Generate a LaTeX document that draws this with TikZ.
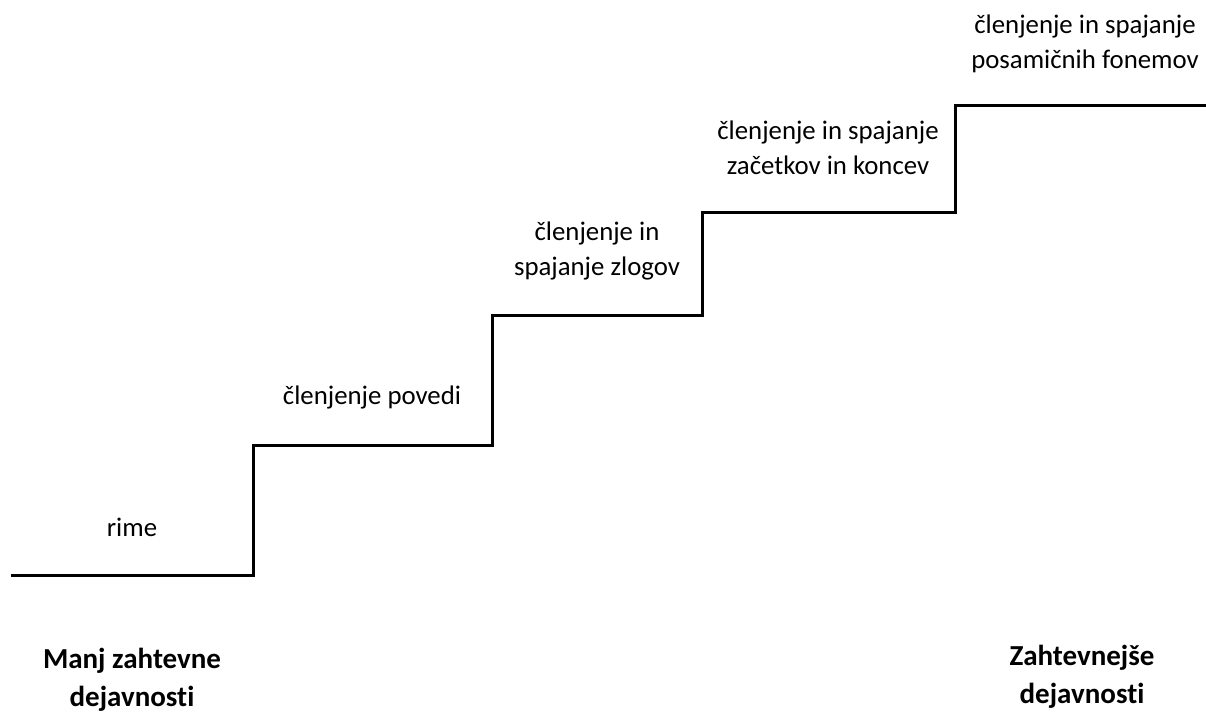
\documentclass[tikz,border=0pt]{standalone}
\usepackage{fontspec}
\setmainfont{Carlito}[Ligatures={NoCommon}]
\begin{document}
\begin{tikzpicture}[x=1pt,y=-1pt,
  lbl/.style={align=center,inner sep=0pt,font=\fontsize{26.8}{35}\selectfont},
  blbl/.style={align=center,inner sep=0pt,font=\fontsize{29}{38}\selectfont\bfseries},
  stair/.style={line width=3pt,line join=miter}]
\useasboundingbox (0,0) rectangle (1206,713);
\begin{scope}
\clip (0,0) rectangle (1206,713);
\coordinate (s0) at (11,575);
\coordinate (s1) at (253,575);
\coordinate (s2) at (253,445);
\coordinate (s3) at (492,445);
\coordinate (s4) at (492,315);
\coordinate (s5) at (702,315);
\coordinate (s6) at (702,212);
\coordinate (s7) at (955,212);
\coordinate (s8) at (955,105);
\coordinate (s9) at (1206,105);
\draw[stair] (s0) -- (s1) -- (s2) -- (s3) -- (s4) -- (s5) -- (s6) -- (s7) -- (s8) -- (s9);
\node[lbl] (rime) at (132,527) {rime};
\node[lbl] (povedi) at (372,397) {členjenje povedi};
\node[lbl] (zlogov) at (597,251) {členjenje in\\spajanje zlogov};
\node[lbl] (koncev) at (828,148) {členjenje in spajanje\\začetkov in koncev};
\node[lbl] (fonemov) at (1085,44) {členjenje in spajanje\\posamičnih fonemov};
\node[blbl] (manj) at (132,680) {Manj zahtevne\\dejavnosti};
\node[blbl] (zaht) at (1082,677) {Zahtevnejše\\dejavnosti};
\end{scope}
\end{tikzpicture}
\end{document}
